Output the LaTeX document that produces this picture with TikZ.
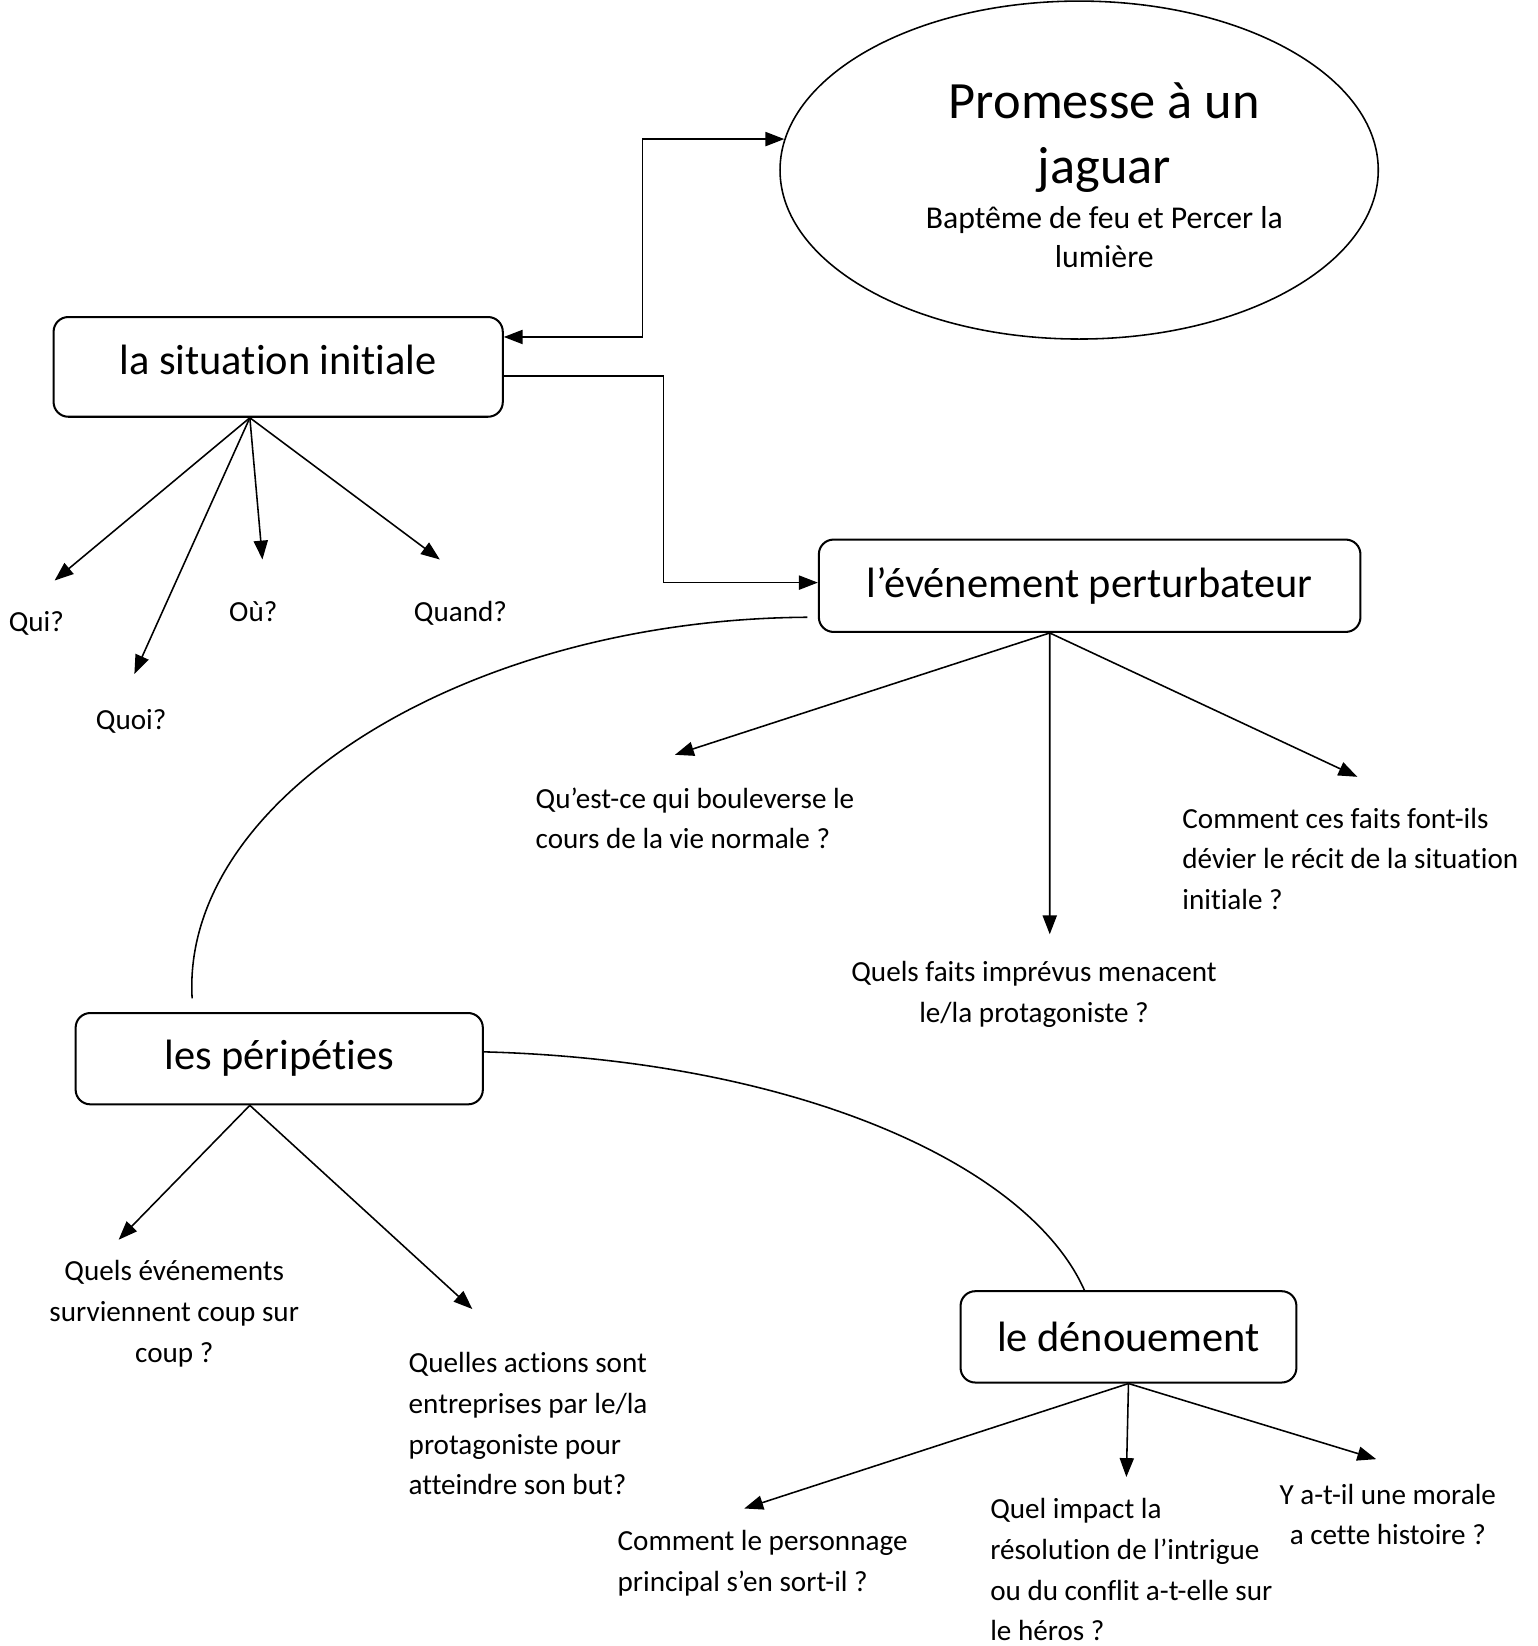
\documentclass[tikz,border=0pt]{standalone}
\usepackage{fontspec}
\setmainfont{Carlito}[RawFeature={-liga;-clig;-calt;-dlig}]
\usetikzlibrary{shapes.geometric,arrows.meta}
\begin{document}
\begin{tikzpicture}[x=0.02cm,y=-0.02cm,
  box/.style={draw,line width=1.1pt,rounded corners=0.28cm,inner sep=0pt,font=\fontsize{23}{28}\selectfont},
  lbl/.style={inner sep=0pt,font=\fontsize{15.8}{22.1}\selectfont},
  conn/.style={line width=0.85pt},
  arr/.style={conn,-{Triangle[length=0.36cm,width=0.27cm]}},
  biarr/.style={conn,{Triangle[length=0.36cm,width=0.27cm]}-{Triangle[length=0.36cm,width=0.27cm]}},
  curvel/.style={line width=0.85pt}]
\useasboundingbox (0,0) rectangle (1465,1568);
% main nodes
\node[draw,ellipse,line width=0.85pt,minimum width=11.4cm,minimum height=6.44cm,inner sep=0pt] (ell) at (1028,162) {};
\node[inner sep=0pt,anchor=base,font=\fontsize{28.4}{35.7}\selectfont] (t1) at (1052,113) {Promesse à un};
\node[inner sep=0pt,anchor=base,font=\fontsize{28.4}{35.7}\selectfont] (t2) at (1052,175) {jaguar};
\node[inner sep=0pt,anchor=base,font=\fontsize{17.2}{21}\selectfont] (t3) at (1052,218) {Baptême de feu et Percer la};
\node[inner sep=0pt,anchor=base,font=\fontsize{17.2}{21}\selectfont] (t4) at (1052,255) {lumière};

\node[box,minimum width=8.56cm,minimum height=1.9cm] (si) at (265,349.5) {\raisebox{0.26cm}{la situation initiale}};
\node[box,minimum width=10.32cm,minimum height=1.76cm] (ev) at (1038,558) {l’événement perturbateur};
\node[box,minimum width=7.76cm,minimum height=1.74cm] (per) at (266,1008.5) {les péripéties};
\node[box,minimum width=6.4cm,minimum height=1.74cm] (den) at (1075,1273.5) {le dénouement};

% labels
\node[lbl,anchor=west] (qui) at (8,594) {\strut Qui?};
\node[lbl,anchor=west] (quoi) at (91,687) {\strut Quoi?};
\node[lbl,anchor=west] (ou) at (218,584) {\strut Où?};
\node[lbl,anchor=west] (quand) at (394,584) {\strut Quand?};
\node[lbl,anchor=west,align=left] (l1) at (510,781.5) {\strut Qu’est-ce qui bouleverse le\\cours de la vie normale ?\strut};
\node[lbl,align=center] (l2) at (985,946.5) {\strut Quels faits imprévus menacent\\le/la protagoniste ?\strut};
\node[lbl,anchor=west,align=left] (l3) at (1126,820) {\strut Comment ces faits font-ils\\dévier le récit de la situation\\initiale ?\strut};
\node[lbl,align=center] (l4) at (166,1251) {\strut Quels événements\\surviennent coup sur\\coup ?\strut};
\node[lbl,anchor=west,align=left] (l5) at (389,1358) {\strut Quelles actions sont\\entreprises par le/la\\protagoniste pour\\atteindre son but?\strut};
\node[lbl,anchor=west,align=left] (l6) at (588,1488.5) {\strut Comment le personnage\\principal s’en sort-il ?\strut};
\node[lbl,anchor=west,align=left] (l7) at (943,1497) {\strut Quel impact la\\résolution de l’intrigue\\ou du conflit a-t-elle sur\\le héros ?\strut};
\node[lbl,align=center] (l8) at (1322,1444.5) {\strut Y a-t-il une morale\\a cette histoire ?\strut};

% arrow tip coordinates
\coordinate (cqui) at (52,553);
\coordinate (cquoi) at (128,642);
\coordinate (cou) at (250,533);
\coordinate (cquand) at (419,533);
\coordinate (cl1) at (643,719);
\coordinate (cl2) at (1000,890);
\coordinate (cl3) at (1293,740);
\coordinate (cl4) at (113,1181);
\coordinate (cl5) at (450,1247);
\coordinate (cl6) at (709,1437);
\coordinate (cl7) at (1073,1407);
\coordinate (cl8) at (1311,1390);

% elbow connectors
\draw[biarr] ([yshift=0.57cm]si.east) -- ++(132,0) |- (ell.174);
\draw[arr] ([yshift=-0.17cm]si.east) -- ++(152,0) |- ([yshift=0.06cm]ev.west);

% fans
\draw[arr] ([xshift=-0.54cm]si.south) -- (cqui);
\draw[arr] ([xshift=-0.54cm]si.south) -- (cquoi);
\draw[arr] ([xshift=-0.54cm]si.south) -- (cou);
\draw[arr] ([xshift=-0.54cm]si.south) -- (cquand);
\draw[arr] ([xshift=-0.76cm]ev.south) -- (cl1);
\draw[arr] ([xshift=-0.76cm]ev.south) -- (cl2);
\draw[arr] ([xshift=-0.76cm]ev.south) -- (cl3);
\draw[arr] ([xshift=-0.56cm]per.south) -- (cl4);
\draw[arr] ([xshift=-0.56cm]per.south) -- (cl5);
\draw[arr] (den.south) -- (cl6);
\draw[arr] (den.south) -- (cl7);
\draw[arr] (den.south) -- (cl8);

% curves
\draw[curvel] ([xshift=-0.2cm,yshift=-0.6cm]ev.west) .. controls (444,590) and (172,760) .. ([xshift=-1.66cm,yshift=0.26cm]per.north);
\draw[curvel] ([yshift=0.13cm]per.east) .. controls (760,1010) and (980,1110) .. ([xshift=-0.84cm]den.north);
\end{tikzpicture}
\end{document}
